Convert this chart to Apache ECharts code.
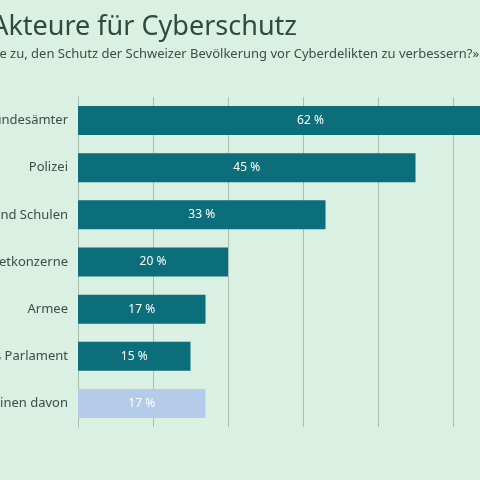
<!DOCTYPE html>
<html><head><meta charset="utf-8">
<script src="https://cdn.jsdelivr.net/npm/echarts@6/dist/echarts.min.js"></script>
<style>
html,body{margin:0;padding:0;width:480px;height:480px;overflow:hidden;background:#d9f0e2;}
#c{position:absolute;left:-320px;top:0;width:940px;height:480px;}
</style></head>
<body><div id="c"></div>
<script>
const categories = ["Die Bundesämter", "Polizei", "Universitäten und Schulen", "Internetkonzerne", "Armee", "Das Parlament", "Keinen davon"];
const values = [62, 45, 33, 20, 17, 15, 17];
const barColors = ["#0b6e7a", "#0b6e7a", "#0b6e7a", "#0b6e7a", "#0b6e7a", "#0b6e7a", "#b4cbe9"];
const titleText = "Die wichtigsten Akteure für Cyberschutz";
const subtitleText = "«Welchen dieser Akteure trauen Sie zu, den Schutz der Schweizer Bevölkerung vor Cyberdelikten zu verbessern?»";

const chart = echarts.init(document.getElementById("c"));
chart.setOption({
  backgroundColor: "#d9f0e2",
  textStyle: { fontFamily: "Source Sans Pro, Noto Sans, sans-serif" },
  graphic: [
    { type: "text", right: 940 - 617, top: 14,
      style: { text: titleText, fontSize: 27, fill: "#2f4a40", fontFamily: "Noto Sans" } },
    { type: "text", right: 940 - 799, top: 48,
      style: { text: subtitleText, fontSize: 13, fill: "#3a4f46", fontFamily: "Noto Sans" } }
  ],
  grid: { left: 398, right: 17, top: 97, bottom: 53 },
  xAxis: {
    type: "value", min: 0, max: 70, interval: 10,
    axisLabel: { show: false }, axisLine: { show: false }, axisTick: { show: false },
    splitLine: { lineStyle: { color: "#a8bfb0", width: 1 } }
  },
  yAxis: {
    type: "category", inverse: true, data: categories,
    axisLine: { lineStyle: { color: "#a8bfb0" } },
    axisTick: { lineStyle: { color: "#a8bfb0" }, length: 4 },
    axisLabel: { color: "#3a4f46", fontSize: 13, margin: 10, fontFamily: "Noto Sans" }
  },
  series: [{
    type: "bar", barWidth: 29,
    data: values.map((v, i) => ({ value: v, itemStyle: { color: barColors[i] } })),
    label: { show: true, position: "inside", color: "#ffffff", fontSize: 12,
      fontFamily: "Noto Sans", formatter: p => p.value + " %" }
  }]
});
</script></body></html>
